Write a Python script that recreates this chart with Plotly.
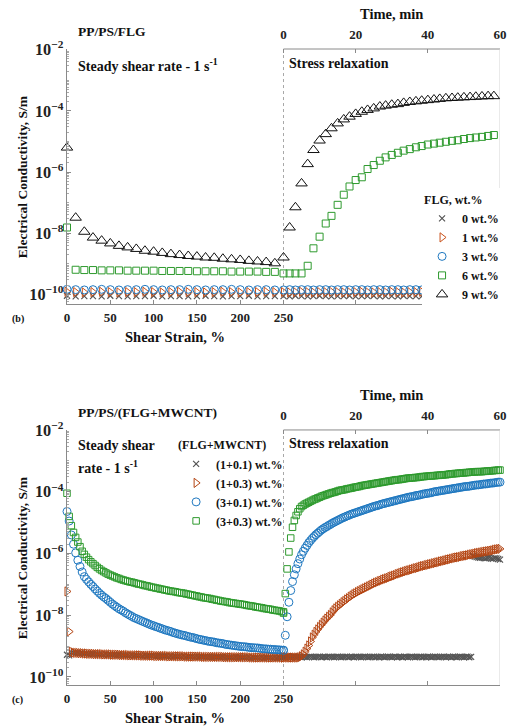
import plotly.graph_objects as go

# ---------------- DATA (conductivity values stored as log10 exponents, S/m) ----------------
# Panel (b): PP/PS/FLG
top_strain = [0, 10, 20, 30, 40, 50, 60, 70, 80, 90, 100, 110, 120, 130, 140, 150, 160, 170, 180, 190, 200, 210, 220, 230, 240]
top_time = [0, 1.7, 3.3, 5, 6.7, 8.3, 10, 11.7, 13.3, 15, 16.7, 18.3, 20, 21.7, 23.3, 25, 26.7, 28.3, 30, 31.7,
            33.3, 35, 36.7, 38.3, 40, 41.7, 43.3, 45, 46.7, 48.3, 50, 51.7, 53.3, 55, 56.7, 58.3]

flg0_shear = [-10.04, -10.06, -10.05, -10.05, -10.06, -10.04, -10.05, -10.06, -10.05, -10.05, -10.04, -10.06, -10.05,
              -10.05, -10.06, -10.05, -10.04, -10.05, -10.06, -10.05, -10.05, -10.04, -10.06, -10.05, -10.05]
flg1_shear = [-9.91, -9.92, -9.93, -9.92, -9.91, -9.92, -9.93, -9.92, -9.92, -9.91, -9.92, -9.93, -9.92,
              -9.91, -9.92, -9.92, -9.93, -9.92, -9.91, -9.92, -9.93, -9.92, -9.92, -9.91, -9.92]
flg3_shear = [-9.83, -9.84, -9.85, -9.84, -9.83, -9.84, -9.85, -9.84, -9.84, -9.83, -9.84, -9.85, -9.84,
              -9.84, -9.83, -9.84, -9.85, -9.84, -9.84, -9.83, -9.84, -9.85, -9.84, -9.84, -9.85]
flg6_shear = [-7.81, -9.19, -9.20, -9.20, -9.21, -9.21, -9.21, -9.22, -9.22, -9.22, -9.22, -9.23, -9.23,
              -9.23, -9.23, -9.24, -9.24, -9.24, -9.24, -9.25, -9.25, -9.25, -9.25, -9.26, -9.26]
flg9_shear = [-5.20, -7.49, -7.95, -8.14, -8.24, -8.33, -8.41, -8.46, -8.51, -8.57, -8.60, -8.64, -8.68,
              -8.71, -8.74, -8.76, -8.79, -8.80, -8.83, -8.85, -8.87, -8.90, -8.92, -8.94, -8.98]

flg0_relax = [-10.05, -10.06, -10.04, -10.05, -10.06, -10.05, -10.04, -10.05, -10.06, -10.05, -10.05, -10.04,
              -10.06, -10.05, -10.05, -10.04, -10.06, -10.05, -10.05, -10.06, -10.04, -10.05, -10.05, -10.06,
              -10.05, -10.04, -10.05, -10.06, -10.05, -10.05, -10.04, -10.06, -10.05, -10.05, -10.04, -10.06]
flg1_relax = [-9.92, -9.93, -9.92, -9.91, -9.92, -9.93, -9.92, -9.92, -9.91, -9.92, -9.93, -9.92,
              -9.92, -9.91, -9.92, -9.93, -9.92, -9.92, -9.91, -9.92, -9.93, -9.92, -9.92, -9.91,
              -9.92, -9.93, -9.92, -9.92, -9.91, -9.92, -9.93, -9.92, -9.92, -9.91, -9.92, -9.93]
flg3_relax = [-9.85, -9.84, -9.85, -9.84, -9.84, -9.85, -9.84, -9.84, -9.85, -9.84, -9.84, -9.85,
              -9.84, -9.84, -9.85, -9.84, -9.84, -9.85, -9.84, -9.84, -9.85, -9.84, -9.84, -9.85,
              -9.84, -9.84, -9.85, -9.84, -9.84, -9.85, -9.84, -9.84, -9.85, -9.84, -9.84, -9.85]
flg6_relax = [-9.31, -9.31, -9.31, -9.31, -9.06, -8.49, -8.11, -7.68, -7.43, -7.07, -6.74, -6.47,
              -6.26, -6.17, -5.90, -5.77, -5.63, -5.52, -5.44, -5.37, -5.30, -5.25, -5.19, -5.15,
              -5.10, -5.07, -5.04, -5.01, -4.98, -4.96, -4.92, -4.89, -4.87, -4.85, -4.82, -4.79]
flg9_relax = [-8.79, -7.81, -7.15, -6.37, -5.74, -5.28, -4.97, -4.76, -4.57, -4.41, -4.28, -4.19,
              -4.10, -4.03, -3.97, -3.92, -3.86, -3.83, -3.80, -3.78, -3.74, -3.71, -3.69, -3.67,
              -3.65, -3.63, -3.61, -3.59, -3.58, -3.57, -3.56, -3.55, -3.54, -3.53, -3.52, -3.52]

# Panel (c): PP/PS/(FLG+MWCNT)  -- shear strain every 2.5 %, time every 0.5 min
bot_strain = [0, 2.5, 5, 7.5, 10, 12.5, 15, 17.5, 20, 22.5,
              25, 27.5, 30, 32.5, 35, 37.5, 40, 42.5, 45, 47.5,
              50, 52.5, 55, 57.5, 60, 62.5, 65, 67.5, 70, 72.5,
              75, 77.5, 80, 82.5, 85, 87.5, 90, 92.5, 95, 97.5,
              100, 102.5, 105, 107.5, 110, 112.5, 115, 117.5, 120, 122.5,
              125, 127.5, 130, 132.5, 135, 137.5, 140, 142.5, 145, 147.5,
              150, 152.5, 155, 157.5, 160, 162.5, 165, 167.5, 170, 172.5,
              175, 177.5, 180, 182.5, 185, 187.5, 190, 192.5, 195, 197.5,
              200, 202.5, 205, 207.5, 210, 212.5, 215, 217.5, 220, 222.5,
              225, 227.5, 230, 232.5, 235, 237.5, 240, 242.5, 245, 247.5,
              250]
bot_time = [0, 0.5, 1, 1.5, 2, 2.5, 3, 3.5, 4, 4.5,
            5, 5.5, 6, 6.5, 7, 7.5, 8, 8.5, 9, 9.5,
            10, 10.5, 11, 11.5, 12, 12.5, 13, 13.5, 14, 14.5,
            15, 15.5, 16, 16.5, 17, 17.5, 18, 18.5, 19, 19.5,
            20, 20.5, 21, 21.5, 22, 22.5, 23, 23.5, 24, 24.5,
            25, 25.5, 26, 26.5, 27, 27.5, 28, 28.5, 29, 29.5,
            30, 30.5, 31, 31.5, 32, 32.5, 33, 33.5, 34, 34.5,
            35, 35.5, 36, 36.5, 37, 37.5, 38, 38.5, 39, 39.5,
            40, 40.5, 41, 41.5, 42, 42.5, 43, 43.5, 44, 44.5,
            45, 45.5, 46, 46.5, 47, 47.5, 48, 48.5, 49, 49.5,
            50, 50.5, 51, 51.5, 52, 52.5, 53, 53.5, 54, 54.5,
            55, 55.5, 56, 56.5, 57, 57.5, 58, 58.5, 59, 59.5,
            60]

c11_shear = [-9.28, -9.30, -9.21, -9.22, -9.23, -9.22, -9.24, -9.23, -9.25, -9.24,
             -9.26, -9.25, -9.26, -9.27, -9.26, -9.27, -9.26, -9.28, -9.27, -9.28,
             -9.27, -9.29, -9.28, -9.29, -9.28, -9.30, -9.29, -9.30, -9.29, -9.31,
             -9.30, -9.31, -9.30, -9.31, -9.30, -9.32, -9.31, -9.32, -9.31, -9.32,
             -9.31, -9.33, -9.32, -9.33, -9.32, -9.33, -9.32, -9.34, -9.33, -9.34,
             -9.33, -9.34, -9.33, -9.34, -9.33, -9.35, -9.34, -9.35, -9.34, -9.35,
             -9.34, -9.35, -9.34, -9.36, -9.35, -9.36, -9.35, -9.36, -9.35, -9.36,
             -9.35, -9.36, -9.35, -9.37, -9.36, -9.37, -9.36, -9.37, -9.36, -9.37,
             -9.36, -9.37, -9.36, -9.37, -9.36, -9.38, -9.37, -9.38, -9.37, -9.38,
             -9.37, -9.38, -9.37, -9.38, -9.37, -9.38, -9.37, -9.38, -9.37, -9.38,
             -9.37]
c13_shear = [-7.23, -8.53, -9.18, -9.21, -9.22, -9.22, -9.23, -9.23, -9.24, -9.24,
             -9.25, -9.25, -9.25, -9.26, -9.26, -9.26, -9.26, -9.27, -9.27, -9.27,
             -9.27, -9.28, -9.28, -9.28, -9.28, -9.29, -9.29, -9.29, -9.29, -9.30,
             -9.30, -9.30, -9.30, -9.30, -9.30, -9.31, -9.31, -9.31, -9.31, -9.31,
             -9.31, -9.32, -9.32, -9.32, -9.32, -9.32, -9.32, -9.33, -9.33, -9.33,
             -9.33, -9.33, -9.33, -9.33, -9.33, -9.34, -9.34, -9.34, -9.34, -9.34,
             -9.34, -9.34, -9.34, -9.35, -9.35, -9.35, -9.35, -9.35, -9.35, -9.35,
             -9.35, -9.35, -9.35, -9.36, -9.36, -9.36, -9.36, -9.36, -9.36, -9.36,
             -9.36, -9.36, -9.36, -9.36, -9.36, -9.37, -9.37, -9.37, -9.37, -9.37,
             -9.37, -9.37, -9.37, -9.37, -9.37, -9.37, -9.37, -9.37, -9.37, -9.37,
             -9.37]
c31_shear = [-4.64, -4.95, -5.40, -5.70, -5.98, -6.22, -6.42, -6.60, -6.75, -6.84,
             -6.92, -7.00, -7.07, -7.15, -7.22, -7.29, -7.35, -7.41, -7.46, -7.52,
             -7.58, -7.64, -7.69, -7.74, -7.79, -7.83, -7.87, -7.92, -7.96, -8.00,
             -8.04, -8.08, -8.11, -8.14, -8.17, -8.20, -8.23, -8.26, -8.29, -8.32,
             -8.34, -8.37, -8.39, -8.42, -8.44, -8.47, -8.49, -8.51, -8.53, -8.56,
             -8.58, -8.60, -8.62, -8.64, -8.65, -8.67, -8.69, -8.71, -8.72, -8.74,
             -8.76, -8.78, -8.79, -8.81, -8.82, -8.84, -8.85, -8.86, -8.87, -8.89,
             -8.90, -8.91, -8.92, -8.94, -8.95, -8.96, -8.97, -8.98, -8.99, -9.00,
             -9.01, -9.02, -9.02, -9.03, -9.04, -9.05, -9.05, -9.06, -9.06, -9.07,
             -9.08, -9.09, -9.09, -9.10, -9.10, -9.11, -9.11, -9.12, -9.12, -9.13,
             -9.13]
c33_shear = [-4.05, -4.80, -5.10, -5.32, -5.48, -5.63, -5.78, -5.93, -6.03, -6.12,
             -6.20, -6.27, -6.33, -6.39, -6.45, -6.50, -6.55, -6.59, -6.63, -6.67,
             -6.70, -6.73, -6.76, -6.79, -6.81, -6.84, -6.86, -6.88, -6.90, -6.92,
             -6.93, -6.95, -6.97, -6.99, -7.00, -7.02, -7.04, -7.05, -7.07, -7.09,
             -7.10, -7.12, -7.13, -7.15, -7.16, -7.18, -7.19, -7.21, -7.22, -7.23,
             -7.24, -7.26, -7.27, -7.28, -7.29, -7.31, -7.32, -7.34, -7.35, -7.37,
             -7.38, -7.40, -7.41, -7.43, -7.44, -7.45, -7.46, -7.48, -7.49, -7.51,
             -7.52, -7.54, -7.55, -7.56, -7.57, -7.59, -7.60, -7.61, -7.62, -7.63,
             -7.64, -7.65, -7.66, -7.68, -7.69, -7.70, -7.71, -7.73, -7.74, -7.75,
             -7.76, -7.78, -7.79, -7.80, -7.81, -7.83, -7.84, -7.85, -7.86, -7.88,
             -7.89]

c11_relax = [-9.35, -9.36, -9.34, -9.35, -9.36, -9.35, -9.34, -9.36, -9.35, -9.35,
             -9.36, -9.34, -9.35, -9.36, -9.35, -9.34, -9.35, -9.36, -9.35, -9.35,
             -9.34, -9.36, -9.35, -9.35, -9.36, -9.34, -9.35, -9.35, -9.36, -9.35,
             -9.34, -9.35, -9.36, -9.35, -9.35, -9.34, -9.36, -9.35, -9.35, -9.36,
             -9.34, -9.35, -9.35, -9.36, -9.35, -9.34, -9.35, -9.36, -9.35, -9.35,
             -9.34, -9.36, -9.35, -9.36, -9.34, -9.35, -9.36, -9.35, -9.34, -9.35,
             -9.36, -9.35, -9.34, -9.36, -9.35, -9.35, -9.36, -9.34, -9.35, -9.36,
             -9.35, -9.34, -9.35, -9.36, -9.35, -9.35, -9.34, -9.36, -9.35, -9.36,
             -9.34, -9.35, -9.36, -9.35, -9.34, -9.35, -9.36, -9.35, -9.35, -9.34,
             -9.36, -9.35, -9.35, -9.36, -9.34, -9.35, -9.36, -9.35, -9.34, -9.35,
             -9.36, -9.35, -9.34, -9.36, -9.35, -6.08, -6.10, -6.12, -6.13, -6.14,
             -6.13, -6.15, -6.16, -6.14, -6.13, -6.16, -6.17, -6.15, -6.16, -6.18,
             -6.20]
c13_relax = [-9.37, -9.37, -9.37, -9.37, -9.37, -9.37, -9.37, -9.37, -9.37, -9.36,
             -9.33, -9.27, -9.18, -9.08, -8.98, -8.85, -8.72, -8.63, -8.54, -8.46,
             -8.38, -8.31, -8.24, -8.17, -8.11, -8.05, -7.99, -7.91, -7.84, -7.78,
             -7.73, -7.68, -7.63, -7.58, -7.54, -7.49, -7.45, -7.40, -7.36, -7.32,
             -7.29, -7.25, -7.22, -7.19, -7.16, -7.13, -7.10, -7.07, -7.04, -7.01,
             -6.98, -6.95, -6.93, -6.90, -6.88, -6.85, -6.83, -6.81, -6.79, -6.76,
             -6.74, -6.72, -6.70, -6.67, -6.65, -6.63, -6.61, -6.59, -6.57, -6.55,
             -6.54, -6.52, -6.50, -6.48, -6.47, -6.45, -6.43, -6.41, -6.40, -6.38,
             -6.37, -6.35, -6.34, -6.32, -6.31, -6.29, -6.28, -6.26, -6.25, -6.23,
             -6.22, -6.20, -6.19, -6.17, -6.16, -6.14, -6.13, -6.12, -6.11, -6.09,
             -6.08, -6.07, -6.06, -6.04, -6.03, -6.02, -6.01, -5.99, -5.98, -5.97,
             -5.96, -5.95, -5.94, -5.93, -5.92, -5.91, -5.90, -5.88, -5.87, -5.86,
             -5.85]
c31_relax = [-9.14, -8.65, -8.05, -7.58, -7.20, -6.91, -6.69, -6.50, -6.33, -6.18,
             -6.04, -5.93, -5.83, -5.74, -5.65, -5.58, -5.51, -5.45, -5.39, -5.34,
             -5.29, -5.24, -5.20, -5.16, -5.13, -5.09, -5.06, -5.02, -4.99, -4.96,
             -4.93, -4.90, -4.87, -4.84, -4.82, -4.79, -4.77, -4.74, -4.72, -4.70,
             -4.68, -4.66, -4.64, -4.62, -4.60, -4.58, -4.56, -4.54, -4.52, -4.50,
             -4.48, -4.46, -4.45, -4.43, -4.41, -4.39, -4.38, -4.36, -4.35, -4.33,
             -4.32, -4.30, -4.29, -4.27, -4.26, -4.24, -4.23, -4.21, -4.20, -4.18,
             -4.17, -4.16, -4.15, -4.13, -4.12, -4.11, -4.10, -4.08, -4.07, -4.06,
             -4.05, -4.04, -4.03, -4.01, -4.00, -3.99, -3.98, -3.97, -3.96, -3.95,
             -3.94, -3.93, -3.92, -3.91, -3.90, -3.89, -3.88, -3.87, -3.86, -3.85,
             -3.84, -3.83, -3.83, -3.82, -3.81, -3.80, -3.79, -3.78, -3.78, -3.77,
             -3.76, -3.75, -3.75, -3.74, -3.73, -3.72, -3.72, -3.71, -3.70, -3.69,
             -3.69]
c33_relax = [-7.93, -7.30, -6.50, -5.95, -5.50, -5.15, -4.93, -4.77, -4.65, -4.55,
             -4.48, -4.44, -4.40, -4.37, -4.34, -4.31, -4.28, -4.25, -4.23, -4.20,
             -4.18, -4.15, -4.13, -4.11, -4.09, -4.07, -4.05, -4.03, -4.02, -4.00,
             -3.98, -3.96, -3.95, -3.94, -3.93, -3.91, -3.90, -3.89, -3.88, -3.86,
             -3.85, -3.84, -3.83, -3.81, -3.80, -3.79, -3.78, -3.77, -3.76, -3.75,
             -3.74, -3.73, -3.72, -3.71, -3.70, -3.69, -3.68, -3.67, -3.66, -3.65,
             -3.64, -3.63, -3.62, -3.61, -3.61, -3.60, -3.59, -3.58, -3.57, -3.56,
             -3.56, -3.55, -3.55, -3.54, -3.54, -3.53, -3.52, -3.51, -3.51, -3.50,
             -3.50, -3.49, -3.49, -3.48, -3.48, -3.47, -3.47, -3.46, -3.46, -3.45,
             -3.45, -3.44, -3.43, -3.42, -3.42, -3.41, -3.41, -3.40, -3.40, -3.39,
             -3.39, -3.38, -3.38, -3.37, -3.37, -3.36, -3.36, -3.35, -3.35, -3.35,
             -3.35, -3.34, -3.34, -3.33, -3.33, -3.32, -3.32, -3.31, -3.31, -3.30,
             -3.30]

top_names = ["0 wt.%", "1 wt.%", "3 wt.%", "6 wt.%", "9 wt.%"]
bot_names = ["(1+0.1) wt.%", "(1+0.3) wt.%", "(3+0.1) wt.%", "(3+0.3) wt.%"]

for a in [flg0_shear, flg1_shear, flg3_shear, flg6_shear, flg9_shear]:
    assert len(a) == len(top_strain)
for a in [flg0_relax, flg1_relax, flg3_relax, flg6_relax, flg9_relax]:
    assert len(a) == len(top_time)
for a in [c11_shear, c13_shear, c31_shear, c33_shear]:
    assert len(a) == len(bot_strain), len(a)
for a in [c11_relax, c13_relax, c31_relax, c33_relax]:
    assert len(a) == len(bot_time), len(a)


def sm(exps):
    return [10 ** e for e in exps]


# ---------------- STYLES ----------------
FONT = "Liberation Serif"
GRAY = "#555555"
ORANGE = "#C9511A"
ORANGE_D = "#B44513"
BLUE = "#1F78C0"
GREEN = "#2E9A2E"
BLACK = "#111111"

top_styles = [
    dict(symbol="x-thin-open", size=6, color=GRAY, width=1.2),
    dict(symbol="triangle-right-open", size=8, color=ORANGE, width=1),
    dict(symbol="circle-open", size=8, color=BLUE, width=1),
    dict(symbol="square-open", size=7, color=GREEN, width=1),
    dict(symbol="triangle-up-open", size=10, color=BLACK, width=1),
]
bot_styles = [
    dict(symbol="x-thin-open", size=6, color=GRAY, width=1.2),
    dict(symbol="triangle-right-open", size=8, color=ORANGE_D, width=1),
    dict(symbol="circle-open", size=8, color=BLUE, width=1),
    dict(symbol="square-open", size=6.5, color=GREEN, width=1),
]

fig = go.Figure()


def mk(st):
    return dict(symbol=st["symbol"], size=st["size"], color=st["color"],
                line=dict(color=st["color"], width=st["width"]))


top_shear = [flg0_shear, flg1_shear, flg3_shear, flg6_shear, flg9_shear]
top_relax = [flg0_relax, flg1_relax, flg3_relax, flg6_relax, flg9_relax]
for name, st, ys, yr in zip(top_names, top_styles, top_shear, top_relax):
    fig.add_trace(go.Scatter(x=top_strain, y=sm(ys), mode="markers", name=name, marker=mk(st),
                             xaxis="x", yaxis="y", legend="legend", cliponaxis=False))
    fig.add_trace(go.Scatter(x=top_time, y=sm(yr), mode="markers", name=name, marker=mk(st),
                             xaxis="x2", yaxis="y", showlegend=False, cliponaxis=False))

bot_shear = [c11_shear, c13_shear, c31_shear, c33_shear]
bot_relax = [c11_relax, c13_relax, c31_relax, c33_relax]
for name, st, ys, yr in zip(bot_names, bot_styles, bot_shear, bot_relax):
    fig.add_trace(go.Scatter(x=bot_strain, y=sm(ys), mode="markers", name=name, marker=mk(st),
                             xaxis="x3", yaxis="y2", legend="legend2", cliponaxis=False))
    fig.add_trace(go.Scatter(x=bot_time, y=sm(yr), mode="markers", name=name, marker=mk(st),
                             xaxis="x4", yaxis="y2", showlegend=False, cliponaxis=False))

# ---------------- AXES ----------------
AX = "#8a8a8a"
tickf = dict(family=FONT, size=13, color="#222", weight="bold")
strain_vals = [0, 50, 100, 150, 200, 250, 333.333, 416.667, 500]
strain_text = ["0", "50", "100", "150", "200", "250", "", "", ""]


def strain_axis(anchor):
    return dict(anchor=anchor, domain=[0, 1], range=[0, 500], tickmode="array", tickvals=strain_vals,
                ticktext=strain_text, ticks="inside", ticklen=4, tickcolor=AX, showline=True, linecolor=AX,
                linewidth=1, showgrid=False, zeroline=False, tickfont=tickf, ticklabelstandoff=1)


def time_axis(over, anchor):
    return dict(overlaying=over, anchor=anchor, side="top", range=[-60, 60], tickmode="array",
                tickvals=[0, 20, 40, 60], ticktext=["0", "20", "40", "60"], ticks="inside", ticklen=4,
                tickcolor=AX, showline=False, showgrid=False, zeroline=False, tickfont=tickf,
                ticklabelstandoff=6)


def log_axis(domain, rng, anchor):
    return dict(anchor=anchor, domain=domain, type="log", range=rng, dtick=2, exponentformat="power",
                showexponent="all", ticks="inside", ticklen=4, tickcolor=AX, showline=True, linecolor=AX,
                linewidth=1, showgrid=False, zeroline=False, tickfont=tickf,
                minor=dict(ticks="inside", ticklen=2, tickcolor="#aaaaaa", dtick="D1", showgrid=False))


fig.update_layout(
    xaxis=strain_axis("y"),
    xaxis2=time_axis("x", "y"),
    xaxis3=strain_axis("y2"),
    xaxis4=time_axis("x3", "y2"),
    yaxis=log_axis([0.599, 1], [-10.31, -1.98], "x"),
    yaxis2=log_axis([0, 0.401], [-10.26, -2.0], "x3"),
)

# frame pieces
shapes = []
for xr, yr in [("x", "y domain"), ("x3", "y2 domain")]:
    shapes.append(dict(type="line", xref=xr, yref=yr, x0=250, x1=500, y0=1, y1=1,
                       line=dict(color=AX, width=1), layer="below"))
    shapes.append(dict(type="line", xref=xr, yref=yr, x0=500, x1=500, y0=0, y1=1,
                       line=dict(color="#d4d4d4", width=1), layer="below"))
    shapes.append(dict(type="line", xref=xr, yref=yr, x0=250, x1=250, y0=0, y1=1,
                       line=dict(color="#a8a8a8", width=1, dash="dot"), layer="below"))


# ---------------- TEXT ----------------
def txt(text, xref, yref, x, y, size=13, xanchor="left", angle=0):
    return dict(text=text, xref=xref, yref=yref, x=x, y=y, xanchor=xanchor, yanchor="middle",
                showarrow=False, textangle=angle,
                font=dict(family=FONT, size=size, color="#111", weight="bold"))


ann = []
for xr, yr, title, letter in [("x domain", "y domain", "PP/PS/FLG", "(b)"),
                              ("x3 domain", "y2 domain", "PP/PS/(FLG+MWCNT)", "(c)")]:
    ann.append(txt(title, xr, yr, 0.02, 1.067, size=13.5))
    ann.append(txt("Stress relaxation", xr, yr, 0.509, 0.945, size=14))
    ann.append(txt("Time, min", xr, yr, 0.75, 1.137, size=14.5, xanchor="center"))
    ann.append(txt("Shear Strain, %", xr, yr, 0.25, -0.129, size=14.5, xanchor="center"))
    ann.append(txt("Electrical Conductivity, S/m", xr, yr, -0.102, 0.5, size=13.5, xanchor="center", angle=-90))
    ann.append(txt(letter, xr, yr, -0.114, -0.06, size=10, xanchor="center"))
ann.append(txt("Steady shear rate - 1 s<sup>-1</sup>", "x domain", "y domain", 0.02, 0.937, size=14))
ann.append(txt("Steady shear", "x3 domain", "y2 domain", 0.02, 0.941, size=14))
ann.append(txt("rate - 1 s<sup>-1</sup>", "x3 domain", "y2 domain", 0.02, 0.855, size=14))

legf = dict(family=FONT, size=12, color="#111", weight="bold")
fig.update_layout(
    width=514, height=727,
    margin=dict(l=67, r=7, t=49, b=42),
    paper_bgcolor="white", plot_bgcolor="white",
    shapes=shapes, annotations=ann,
    legend=dict(x=0.82, y=0.781, xanchor="left", yanchor="top", bgcolor="white", borderwidth=0,
                font=legf, title=dict(text="FLG, wt.%", font=legf), tracegroupgap=0, itemwidth=30),
    legend2=dict(x=0.252, y=0.395, xanchor="left", yanchor="top", bgcolor="rgba(0,0,0,0)", borderwidth=0,
                 font=legf, title=dict(text="(FLG+MWCNT)", font=legf), tracegroupgap=0, itemwidth=30),
)

fig.write_html("out.html")
